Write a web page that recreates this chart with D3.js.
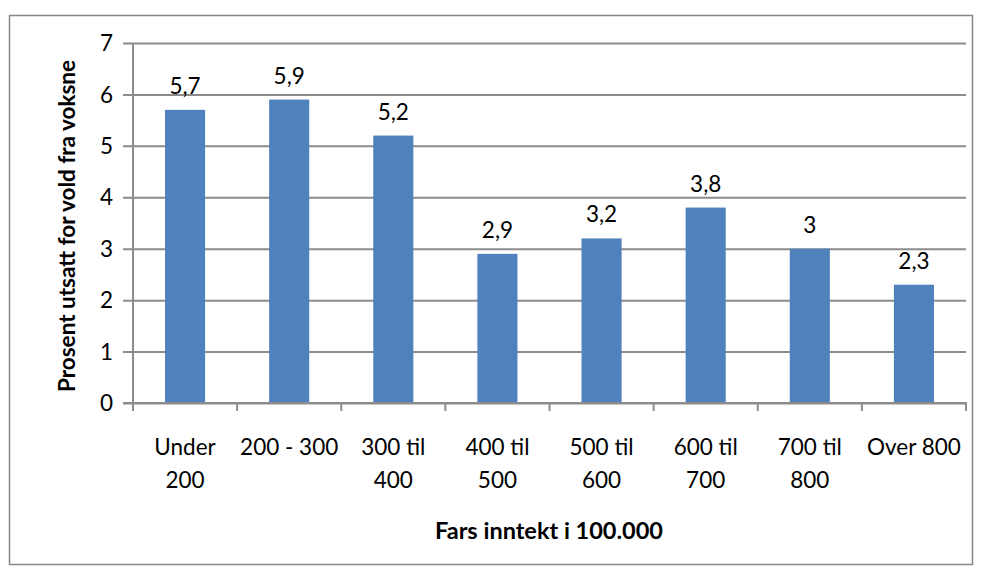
<!DOCTYPE html>
<html>
<head>
<meta charset="utf-8">
<script src="https://cdn.jsdelivr.net/npm/d3@7"></script>
<style>
  body { margin: 0; background: #fff; }
  svg text { font-family: Lato, "Open Sans", sans-serif; fill: #000; }
</style>
</head>
<body>
<div id="chart"></div>
<script>
// data
const categories = ['Under 200', '200 - 300', '300 til 400', '400 til 500', '500 til 600', '600 til 700', '700 til 800', 'Over 800'];
const categoryLines = [['Under', '200'], ['200 - 300'], ['300 til', '400'], ['400 til', '500'], ['500 til', '600'], ['600 til', '700'], ['700 til', '800'], ['Over 800']];
const values = [5.7, 5.9, 5.2, 2.9, 3.2, 3.8, 3, 2.3];
const yTicks = [0, 1, 2, 3, 4, 5, 6, 7];
const yTitle = 'Prosent utsatt for vold fra voksne';
const xTitle = 'Fars inntekt i 100.000';

const w = 982, h = 571;
const padLeft = 133, padRight = 966, padTop = 43, padBottom = 403;
const gridColor = '#8c8c8c';
const labelSize = 22.5;

const svg = d3.select('#chart').append('svg')
  .attr('width', w)
  .attr('height', h);

// outer frame
svg.append('rect')
  .attr('x', 9.5).attr('y', 15.5)
  .attr('width', 963).attr('height', 549)
  .attr('fill', 'none')
  .attr('stroke', '#878787')
  .attr('stroke-width', 1.5);

const xScale = d3.scaleBand()
  .domain(categories)
  .range([padLeft, padRight])
  .paddingInner(0.615)
  .paddingOuter(0.3075);

const yScale = d3.scaleLinear()
  .domain([0, 7])
  .range([padBottom, padTop]);

// gridlines + y axis
const yAxis = d3.axisLeft(yScale)
  .tickValues(yTicks)
  .tickSize(-(padRight - padLeft))
  .tickFormat('');
const gy = svg.append('g')
  .attr('transform', 'translate(' + padLeft + ',0)')
  .call(yAxis);
gy.select('.domain').remove();
gy.selectAll('.tick line')
  .attr('stroke', gridColor)
  .attr('stroke-width', 2)
  .attr('x1', -10);

// y tick labels
svg.selectAll('.ylabel')
  .data(yTicks)
  .enter()
  .append('text')
  .attr('class', 'ylabel')
  .attr('x', 113)
  .attr('y', d => yScale(d))
  .attr('dy', '0.36em')
  .attr('text-anchor', 'end')
  .attr('font-size', labelSize)
  .text(d => d);

// bars
svg.selectAll('rect.bar')
  .data(values)
  .enter()
  .append('rect')
  .attr('class', 'bar')
  .attr('x', (d, i) => xScale(categories[i]))
  .attr('y', d => yScale(d))
  .attr('width', xScale.bandwidth())
  .attr('height', d => padBottom - yScale(d))
  .attr('fill', '#4f81bd');

// axes lines
svg.append('line')
  .attr('x1', padLeft).attr('x2', padLeft)
  .attr('y1', padTop).attr('y2', padBottom)
  .attr('stroke', gridColor).attr('stroke-width', 2);
svg.append('line')
  .attr('x1', padLeft - 10).attr('x2', padRight + 1)
  .attr('y1', padBottom).attr('y2', padBottom)
  .attr('stroke', gridColor).attr('stroke-width', 2);

// category tick marks
const step = xScale.step();
const bounds = d3.range(categories.length + 1).map(i => padLeft + i * step);
svg.selectAll('.xtick')
  .data(bounds)
  .enter()
  .append('line')
  .attr('class', 'xtick')
  .attr('x1', d => d).attr('x2', d => d)
  .attr('y1', padBottom).attr('y2', padBottom + 8)
  .attr('stroke', gridColor).attr('stroke-width', 2);

// data labels
svg.selectAll('.vlabel')
  .data(values)
  .enter()
  .append('text')
  .attr('class', 'vlabel')
  .attr('x', (d, i) => xScale(categories[i]) + xScale.bandwidth() / 2)
  .attr('y', d => yScale(d) - 16)
  .attr('text-anchor', 'middle')
  .attr('font-size', labelSize)
  .text(d => String(d).replace('.', ','));

// category labels
const cl = svg.selectAll('.clabel')
  .data(categoryLines)
  .enter()
  .append('text')
  .attr('class', 'clabel')
  .attr('text-anchor', 'middle')
  .attr('font-size', labelSize)
  .attr('transform', (d, i) => 'translate(' + (xScale(categories[i]) + xScale.bandwidth() / 2) + ',0)');
cl.selectAll('tspan')
  .data(d => d)
  .enter()
  .append('tspan')
  .attr('x', 0)
  .attr('y', (d, j) => 455 + j * 33)
  .text(d => d);

// axis titles
svg.append('text')
  .attr('x', 549)
  .attr('y', 539)
  .attr('text-anchor', 'middle')
  .attr('font-size', 23.5)
  .attr('font-weight', 'bold')
  .text(xTitle);

svg.append('text')
  .attr('transform', 'translate(75,' + 226 + ') rotate(-90)')
  .attr('text-anchor', 'middle')
  .attr('font-size', 22.5)
  .attr('font-weight', 'bold')
  .text(yTitle);
</script>
</body>
</html>
